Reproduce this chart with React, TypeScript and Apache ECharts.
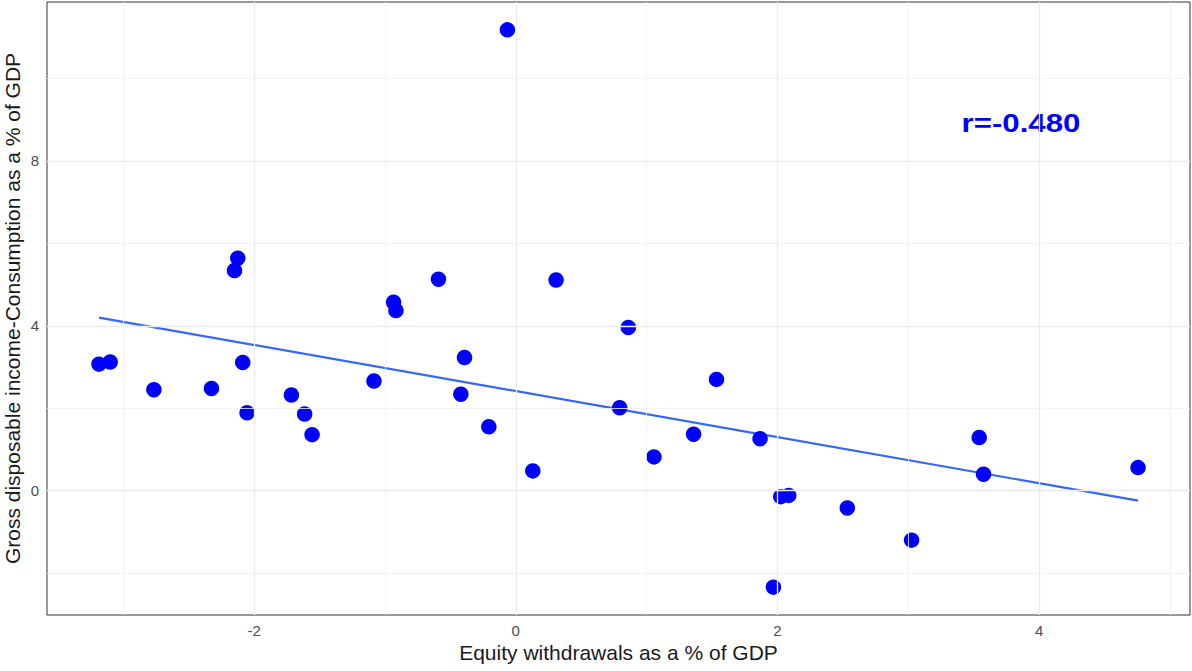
import React, { useEffect, useRef } from "react";
import * as echarts from "echarts";

// Equity withdrawals (% of GDP) and the gap between gross disposable income and consumption (% of GDP)
const equityWithdrawals = [
  -3.186, -3.1, -2.766, -2.326, -2.15, -2.125, -2.087, -2.054, -1.715, -1.614,
  -1.557, -1.084, -0.934, -0.916, -0.591, -0.392, -0.42, -0.206, -0.064, 0.13,
  0.308, 0.794, 0.86, 1.056, 1.359, 1.534, 1.867, 1.969, 2.025, 2.086,
  2.534, 3.025, 3.542, 3.575, 4.756,
];
const incomeMinusConsumption = [
  3.07, 3.12, 2.45, 2.48, 5.34, 5.64, 3.11, 1.89, 2.32, 1.86,
  1.36, 2.66, 4.57, 4.37, 5.13, 3.23, 2.34, 1.55, 11.18, 0.48,
  5.11, 2.01, 3.96, 0.82, 1.37, 2.7, 1.26, -2.34, -0.145, -0.114,
  -0.42, -1.2, 1.29, 0.4, 0.56,
];

const xMajorTicks = [-2, 0, 2, 4];
const xMinorTicks = [-3, -1, 1, 3, 5];
const yMajorTicks = [0, 4, 8];
const yMinorTicks = [-2, 2, 6, 10];

const correlationLabel = "r=-0.480";
const xTitle = "Equity withdrawals as a % of GDP";
const yTitle = "Gross disposable income-Consumption as a % of GDP";

const FONT = "'Liberation Sans', Arial, Helvetica, sans-serif";

// Ordinary least squares fit, evaluated at the extreme x values
function leastSquaresLine(xs: number[], ys: number[]): number[][] {
  const n = xs.length;
  const mx = xs.reduce((a, b) => a + b, 0) / n;
  const my = ys.reduce((a, b) => a + b, 0) / n;
  let sxy = 0;
  let sxx = 0;
  for (let i = 0; i < n; i++) {
    sxy += (xs[i] - mx) * (ys[i] - my);
    sxx += (xs[i] - mx) * (xs[i] - mx);
  }
  const slope = sxy / sxx;
  const intercept = my - slope * mx;
  const x0 = Math.min(...xs);
  const x1 = Math.max(...xs);
  return [
    [x0, intercept + slope * x0],
    [x1, intercept + slope * x1],
  ];
}

// Padded range, 5% of the data span on each side
function paddedRange(values: number[]): [number, number] {
  const lo = Math.min(...values);
  const hi = Math.max(...values);
  const pad = (hi - lo) * 0.05;
  return [lo - pad, hi + pad];
}

export default function App() {
  const ref = useRef<HTMLDivElement>(null);

  useEffect(() => {
    if (!ref.current) return;
    const chart = echarts.init(ref.current, null, { renderer: "svg" });

    const [xMin, xMax] = paddedRange(equityWithdrawals);
    const [yMin, yMax] = paddedRange(incomeMinusConsumption);
    const points = equityWithdrawals.map((x, i) => [x, incomeMinusConsumption[i]]);
    const fit = leastSquaresLine(equityWithdrawals, incomeMinusConsumption);

    const majorStyle = { color: "#ebebeb", width: 1.3, type: "solid" };
    const minorStyle = { color: "#f0f0f0", width: 0.8, type: "solid" };

    const gridLines = [
      ...xMinorTicks.map((v) => ({ xAxis: v, lineStyle: minorStyle })),
      ...yMinorTicks.map((v) => ({ yAxis: v, lineStyle: minorStyle })),
      ...xMajorTicks.map((v) => ({ xAxis: v, lineStyle: majorStyle })),
      ...yMajorTicks.map((v) => ({ yAxis: v, lineStyle: majorStyle })),
    ];

    chart.setOption({
      animation: false,
      backgroundColor: "#ffffff",
      grid: {
        left: 47,
        right: 2,
        top: 2,
        bottom: 56,
        containLabel: false,
        outerBoundsMode: "none",
        show: true,
        borderColor: "#333333",
        borderWidth: 1,
        backgroundColor: "transparent",
        z: 5,
      },
      xAxis: {
        type: "value",
        min: xMin,
        max: xMax,
        name: xTitle,
        nameLocation: "middle",
        nameGap: 27,
        nameMoveOverlap: false,
        nameTextStyle: { color: "#1a1a1a", fontSize: 21, fontFamily: FONT },
        axisLine: { show: false },
        splitLine: { show: false },
        axisTick: {
          show: true,
          customValues: xMajorTicks,
          length: 4,
          lineStyle: { color: "#333333", width: 1 },
        },
        axisLabel: {
          customValues: xMajorTicks,
          color: "#4d4d4d",
          fontSize: 15,
          fontFamily: FONT,
          margin: 8,
        },
      },
      yAxis: {
        type: "value",
        min: yMin,
        max: yMax,
        name: yTitle,
        nameLocation: "middle",
        nameGap: 24,
        nameMoveOverlap: false,
        nameRotate: 90,
        nameTextStyle: { color: "#1a1a1a", fontSize: 21, fontFamily: FONT },
        axisLine: { show: false },
        splitLine: { show: false },
        axisTick: {
          show: true,
          customValues: yMajorTicks,
          length: 4,
          lineStyle: { color: "#333333", width: 1 },
        },
        axisLabel: {
          customValues: yMajorTicks,
          color: "#4d4d4d",
          fontSize: 15,
          fontFamily: FONT,
          margin: 8,
        },
      },
      series: [
        {
          type: "scatter",
          data: [],
          silent: true,
          z: 0,
          markLine: {
            silent: true,
            symbol: ["none", "none"],
            label: { show: false },
            emphasis: { disabled: true },
            data: gridLines,
          },
        },
        {
          type: "line",
          data: fit,
          showSymbol: false,
          symbol: "none",
          silent: true,
          z: 2,
          lineStyle: { color: "#3366ff", width: 2.2 },
        },
        {
          type: "scatter",
          data: points,
          symbol: "circle",
          symbolSize: 15.5,
          z: 3,
          itemStyle: { color: "#0000ff", opacity: 1 },
        },
      ],
      graphic: [
        {
          type: "text",
          x: 1021,
          y: 123,
          scaleX: 1.2,
          style: {
            text: correlationLabel,
            fill: "#0000ff",
            font: `bold 26px ${FONT}`,
            textAlign: "center",
            textVerticalAlign: "middle",
          },
        },
      ],
    });

    return () => chart.dispose();
  }, []);

  return (
    <div
      ref={ref}
      style={{ position: "fixed", left: 0, top: 0, width: 1192, height: 671 }}
    />
  );
}
